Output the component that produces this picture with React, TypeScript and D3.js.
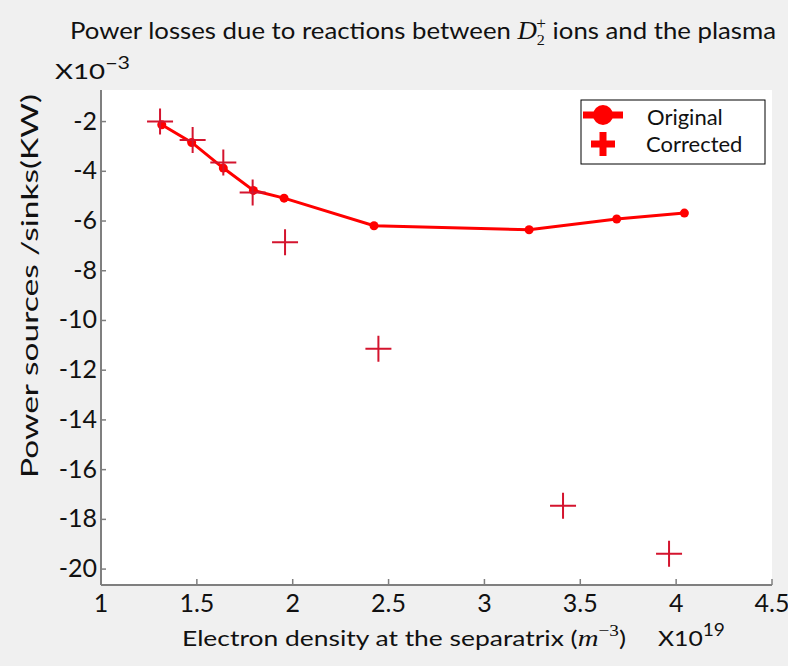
import React from "react";
import * as d3 from "d3";

const originalX = [1.317, 1.473, 1.638, 1.795, 1.955, 2.424, 3.233, 3.69, 4.043];
const originalY = [-2.13, -2.84, -3.87, -4.77, -5.08, -6.19, -6.35, -5.92, -5.68];
const correctedX = [1.308, 1.478, 1.638, 1.791, 1.96, 2.447, 3.41, 3.963];
const correctedY = [-2.0, -2.74, -3.65, -4.85, -6.85, -11.14, -17.45, -19.38];
const xTicks = [1, 1.5, 2, 2.5, 3, 3.5, 4, 4.5];
const yTicks = [-2, -4, -6, -8, -10, -12, -14, -16, -18, -20];
const legendLabels = ["Original", "Corrected"];

const W = 788;
const H = 666;
const FONT = "Lato, 'Open Sans', sans-serif";
const MATH = "'Liberation Serif', 'DejaVu Serif', serif";

export default function App() {
  const x = d3.scaleLinear().domain([1, 4.5]).range([101, 772]);
  const y = d3.scaleLinear().domain([-20.64, -0.73]).range([585, 90]);
  const line = d3
    .line<number>()
    .x((_, i) => x(originalX[i]))
    .y((v) => y(v));
  const axisColor = "#7f7f7f";
  const plus = (cx: number, cy: number, s: number) =>
    `M${cx - s},${cy}H${cx + s}M${cx},${cy - s}V${cy + s}`;

  return (
    <svg
      width={W}
      height={H}
      style={{ position: "absolute", left: 0, top: 0, display: "block" }}
    >
      <rect x={0} y={0} width={W} height={H} fill="#f0f0f0" />
      <rect
        x={x(1)}
        y={y(-0.73)}
        width={x(4.5) - x(1)}
        height={y(-20.64) - y(-0.73)}
        fill="#ffffff"
      />
      {/* title */}
      <text
        x={70}
        y={39}
        fontFamily={FONT}
        fontSize={24}
        fill="#111"
        textLength={706}
        lengthAdjust="spacingAndGlyphs"
      >
        Power losses due to reactions between{" "}
        <tspan fontFamily={MATH} fontStyle="italic" fontSize={25}>D</tspan>
        <tspan fontFamily={MATH} fontSize={15} dy={6}>2</tspan>
        <tspan fontFamily={MATH} fontSize={16} dx={-8} dy={-16}>+</tspan>
        <tspan dy={10}> ions and the plasma</tspan>
      </text>
      {/* y exponent */}
      <text
        x={55}
        y={79}
        fontFamily={FONT}
        fontSize={22}
        fill="#111"
        textLength={75}
        lengthAdjust="spacingAndGlyphs"
      >
        X10
        <tspan fontSize={17} dy={-10}>−3</tspan>
      </text>
      {/* axes */}
      <line x1={x(1)} x2={x(1)} y1={y(-0.73)} y2={y(-20.64)} stroke={axisColor} strokeWidth={2} />
      <line x1={x(1)} x2={x(4.5)} y1={y(-20.64)} y2={y(-20.64)} stroke={axisColor} strokeWidth={2} />
      {xTicks.map((t) => (
        <g key={"xt" + t}>
          <line x1={x(t)} x2={x(t)} y1={y(-20.64)} y2={y(-20.64) - 6} stroke={axisColor} strokeWidth={1.5} />
          <text x={x(t)} y={612} textAnchor="middle" fontFamily={FONT} fontSize={25} fill="#111">
            {String(t)}
          </text>
        </g>
      ))}
      {yTicks.map((t) => (
        <g key={"yt" + t}>
          <line x1={x(1)} x2={x(1) + 5} y1={y(t)} y2={y(t)} stroke={axisColor} strokeWidth={1.5} />
          <text x={97} y={y(t) + 8} textAnchor="end" fontFamily={FONT} fontSize={25} fill="#111">
            {String(t)}
          </text>
        </g>
      ))}
      {/* axis labels */}
      <text
        transform={`translate(38,286) rotate(-90)`}
        textAnchor="middle"
        fontFamily={FONT}
        fontSize={23}
        fill="#111"
        textLength={384}
        lengthAdjust="spacingAndGlyphs"
      >
        Power sources /sinks(KW)
      </text>
      <text
        x={182}
        y={646}
        fontFamily={FONT}
        fontSize={22}
        fill="#111"
        textLength={444}
        lengthAdjust="spacingAndGlyphs"
      >
        Electron density at the separatrix (
        <tspan fontFamily={MATH} fontStyle="italic" fontSize={24}>m</tspan>
        <tspan fontFamily={MATH} fontSize={16} dy={-10}>−3</tspan>
        <tspan dy={10}>)</tspan>
      </text>
      <text
        x={658}
        y={646}
        fontFamily={FONT}
        fontSize={22}
        fill="#111"
        textLength={67}
        lengthAdjust="spacingAndGlyphs"
      >
        X10
        <tspan fontSize={17} dy={-10}>19</tspan>
      </text>
      {/* original series */}
      <path d={line(originalY) || ""} fill="none" stroke="#ff0000" strokeWidth={3} />
      {originalY.map((v, i) => (
        <circle key={"o" + i} cx={x(originalX[i])} cy={y(v)} r={4.5} fill="#ff0000" />
      ))}
      {/* corrected series */}
      {correctedY.map((v, i) => (
        <path
          key={"c" + i}
          d={plus(x(correctedX[i]), y(v), 13)}
          stroke="#d4142e"
          strokeWidth={2}
          fill="none"
        />
      ))}
      {/* legend */}
      <rect x={581} y={100} width={184} height={64} fill="#ffffff" stroke="#000" strokeWidth={1} />
      <line x1={583} x2={623} y1={115} y2={115} stroke="#ff0000" strokeWidth={7} />
      <circle cx={603} cy={115} r={10} fill="#ff0000" />
      <path d={plus(603, 144, 12)} stroke="#ff0000" strokeWidth={7} fill="none" />
      <text x={647} y={125} fontFamily={FONT} fontSize={22} fill="#111">
        {legendLabels[0]}
      </text>
      <text x={646} y={152} fontFamily={FONT} fontSize={22} fill="#111">
        {legendLabels[1]}
      </text>
    </svg>
  );
}
